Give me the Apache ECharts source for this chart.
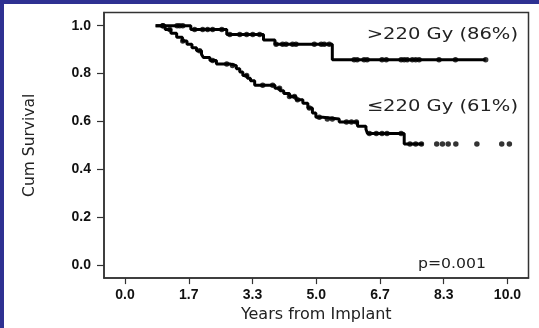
<!DOCTYPE html>
<html>
<head>
<meta charset="utf-8">
<script src="https://cdn.jsdelivr.net/npm/echarts@6/dist/echarts.min.js"></script>
<style>
  html, body { margin: 0; padding: 0; background: #fff; }
  #chart { width: 539px; height: 328px; }
</style>
</head>
<body>
<div id="chart"></div>
<script>
// x ticks (years) and y ticks (cum survival)
const xTicks = [0, 1.667, 3.333, 5, 6.667, 8.333, 10];
const yTicks = [0, 0.2, 0.4, 0.6, 0.8, 1.0];

// >220 Gy group: step times and survival after each step
const highTimes = [0.8, 1.72, 2.66, 3.62, 3.92, 5.42];
const highSurv = [1.0, 0.984, 0.963, 0.94, 0.922, 0.858];
const highEnd = 9.43;
const highCensor = [0.99, 1.36, 1.43, 1.51, 1.82, 2.03, 2.16, 2.29, 2.53, 2.74, 3.0, 3.18, 3.34, 3.52,
  3.95, 4.12, 4.21, 4.38, 4.47, 4.95, 5.13, 5.21, 5.34, 5.99, 6.07, 6.25, 6.33, 6.72, 6.83,
  7.22, 7.3, 7.38, 7.51, 7.6, 7.69, 8.21, 8.64, 9.43];

// <=220 Gy group
const lowTimes = [0.8, 1.05, 1.2, 1.35, 1.5, 1.62, 1.75, 1.87, 2.0, 2.05, 2.22, 2.39, 2.74, 2.91, 3.0,
  3.08, 3.2, 3.28, 3.39, 3.92, 4.05, 4.15, 4.3, 4.47, 4.65, 4.78, 4.9, 4.99, 5.17, 5.6, 6.08, 6.3, 6.34, 7.3];
const lowSurv = [1.0, 0.984, 0.968, 0.952, 0.936, 0.922, 0.908, 0.895, 0.88, 0.867, 0.854, 0.84, 0.833, 0.82, 0.806,
  0.792, 0.78, 0.77, 0.751, 0.738, 0.728, 0.717, 0.704, 0.69, 0.676, 0.656, 0.635, 0.617, 0.61, 0.597, 0.58, 0.567, 0.549, 0.505];
const lowEnd = 7.8;
const lowCensor = [0.99, 1.17, 1.51, 1.95, 2.29, 2.66, 2.81, 3.18, 3.6, 3.86, 4.04, 4.3, 4.43, 4.51, 4.82,
  5.08, 5.29, 5.42, 5.79, 5.92, 6.05, 6.39, 6.57, 6.72, 6.85, 7.22, 7.45, 7.6, 7.75,
  8.15, 8.3, 8.45, 8.65, 9.2, 9.85, 10.05];

const labels = ['>220 Gy (86%)', '\u2264220 Gy (61%)', 'p=0.001'];

// step line points + censor marks looked up on the step function
const stepLine = (times, surv, end) => {
  let pts = times.map((t, i) => [t, surv[i]]);
  pts.push([end, surv[surv.length - 1]]);
  return pts;
};
const censorPts = (times, surv, cens) => cens.map(c => {
  let v = surv[0];
  for (let i = 0; i < times.length; i++) { if (times[i] <= c) v = surv[i]; }
  return [c, v];
});

let myChart = echarts.init(document.getElementById('chart'));
const blue = '#2e3192';
const axisColor = '#333';
const textFont = '"DejaVu Sans", sans-serif';

let option = {
  animation: false,
  backgroundColor: '#fff',
  grid: {
    left: 104, top: 12.5, right: 10.5, bottom: 45,
    show: true, borderColor: axisColor, borderWidth: 1.5
  },
  xAxis: {
    type: 'value', min: -0.55, max: 10.55,
    name: 'Years from Implant', nameLocation: 'middle', nameGap: 25,
    nameTextStyle: { color: '#222', fontSize: 16, fontFamily: textFont },
    axisLine: { show: true, onZero: false, lineStyle: { color: axisColor, width: 1.5 } },
    axisTick: { show: true, customValues: xTicks, length: 6, lineStyle: { color: axisColor, width: 1.2 } },
    axisLabel: {
      customValues: xTicks, margin: 10, color: '#111', fontSize: 14, fontWeight: 'bold',
      fontFamily: '"Liberation Sans", Arial, sans-serif', formatter: v => v.toFixed(1)
    },
    splitLine: { show: false }
  },
  yAxis: {
    type: 'value', min: -0.055, max: 1.055,
    name: 'Cum Survival', nameLocation: 'middle', nameGap: 66,
    nameTextStyle: { color: '#222', fontSize: 15.5, fontFamily: textFont },
    axisLine: { show: true, onZero: false, lineStyle: { color: axisColor, width: 1.5 } },
    axisTick: { show: true, customValues: yTicks, length: 7, lineStyle: { color: axisColor, width: 1.2 } },
    axisLabel: {
      customValues: yTicks, margin: 13, color: '#111', fontSize: 14, fontWeight: 'bold',
      fontFamily: '"Liberation Sans", Arial, sans-serif', formatter: v => v.toFixed(1)
    },
    splitLine: { show: false }
  },
  graphic: [
    { type: 'rect', shape: { x: 0, y: 0, width: 539, height: 4 }, style: { fill: blue }, z: 100 },
    { type: 'rect', shape: { x: 0, y: 0, width: 4, height: 328 }, style: { fill: blue }, z: 100 },
    {
      type: 'text', x: 518, y: 35, scaleX: 1.22, z: 100,
      style: { text: labels[0], font: '16px ' + textFont, fill: '#222', align: 'right', verticalAlign: 'middle' }
    },
    {
      type: 'text', x: 518, y: 107, scaleX: 1.22, z: 100,
      style: { text: labels[1], font: '16px ' + textFont, fill: '#222', align: 'right', verticalAlign: 'middle' }
    },
    {
      type: 'text', x: 486, y: 264, scaleX: 1.12, z: 100,
      style: { text: labels[2], font: '14px ' + textFont, fill: '#222', align: 'right', verticalAlign: 'middle' }
    }
  ],
  series: [
    {
      type: 'line', step: 'end', symbol: 'none', data: stepLine(highTimes, highSurv, highEnd),
      lineStyle: { color: '#000', width: 3 }, z: 3
    },
    {
      type: 'line', step: 'end', symbol: 'none', data: stepLine(lowTimes, lowSurv, lowEnd),
      lineStyle: { color: '#000', width: 3 }, z: 3
    },
    {
      type: 'scatter', data: censorPts(highTimes, highSurv, highCensor),
      symbol: 'circle', symbolSize: 5.5, itemStyle: { color: '#000' }, z: 4
    },
    {
      type: 'scatter', data: censorPts(lowTimes, lowSurv, lowCensor),
      symbol: 'circle', symbolSize: 5.5, itemStyle: { color: '#000' }, z: 4
    }
  ]
};
myChart.setOption(option);
</script>
</body>
</html>
